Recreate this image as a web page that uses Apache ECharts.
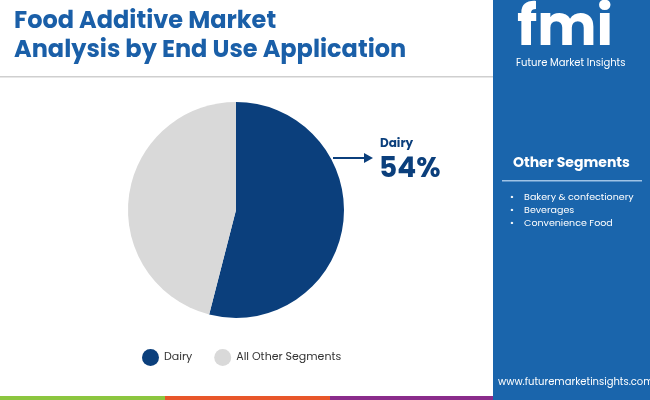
<!DOCTYPE html><html><head><meta charset="utf-8"><script src="https://cdn.jsdelivr.net/npm/echarts@6/dist/echarts.min.js"></script>
<style>html,body{margin:0;padding:0}#c{width:650px;height:400px}</style></head><body><div id="c"></div><script>
const categories=['Dairy','All Other Segments'];
const values=[54,46];
const otherSegments=['Bakery & confectionery','Beverages','Convenience Food'];
const colors=['#0b3f7c','#d9d9d9'];
const F='Poppins, Roboto, "Noto Sans", sans-serif';
const c=echarts.init(document.getElementById('c'));
const g=[
 {type:'rect',shape:{x:493,y:0,width:157,height:400},style:{fill:'#1a65ac'}},
 {type:'rect',shape:{x:0,y:76,width:493,height:1.5},style:{fill:'#cfcfcf'}},
 {type:'rect',shape:{x:0,y:396,width:165,height:4},style:{fill:'#8cc63f'}},
 {type:'rect',shape:{x:165,y:396,width:165,height:4},style:{fill:'#e8562a'}},
 {type:'rect',shape:{x:330,y:396,width:163,height:4},style:{fill:'#8a2c8b'}},
 {type:'text',left:14,top:7,style:{text:'Food Additive Market\nAnalysis by End Use Application',font:'bold 24px '+F,fill:'#1a5fa8',lineHeight:29}},
 {type:'text',left:517,top:3,style:{text:'fmi',font:'bold 56px '+F,fill:'#ffffff'}},
 {type:'text',left:516,top:58,style:{text:'Future Market Insights',font:'10px '+F,fill:'#ffffff'}},
 {type:'text',left:513,top:156,style:{text:'Other Segments',font:'bold 14px '+F,fill:'#ffffff'}},
 {type:'rect',shape:{x:502,y:180,width:140,height:1.5},style:{fill:'#9fc3e6'}},
 {type:'text',left:510,top:191,style:{text:otherSegments.map(s=>'•    '+s).join('\n'),font:'9.5px '+F,fill:'#ffffff',lineHeight:13}},
 {type:'text',left:498,top:377,style:{text:'www.futuremarketinsights.com',font:'10px '+F,fill:'#ffffff'}},
 {type:'line',shape:{x1:333,y1:158,x2:366,y2:158},style:{stroke:'#0b3f7c',lineWidth:2}},
 {type:'polygon',shape:{points:[[373,158],[364,153],[364,163]]},style:{fill:'#0b3f7c'}},
 {type:'text',left:380,top:138,style:{text:categories[0],font:'bold 12px '+F,fill:'#0b3f7c'}},
 {type:'text',left:379,top:156,style:{text:values[0]+'%',font:'bold 28px '+F,fill:'#0b3f7c'}}
];
c.setOption({animation:false,graphic:g,
 legend:{left:137,top:344,itemGap:22,icon:'circle',itemWidth:17,itemHeight:17,textStyle:{fontSize:11,color:'#333',fontFamily:F},data:categories},
 series:[{type:'pie',center:[236,210],radius:[0,108],startAngle:90,clockwise:true,label:{show:false},labelLine:{show:false},
 data:categories.map((n,i)=>({name:n,value:values[i],itemStyle:{color:colors[i]}}))}]});
</script></body></html>
